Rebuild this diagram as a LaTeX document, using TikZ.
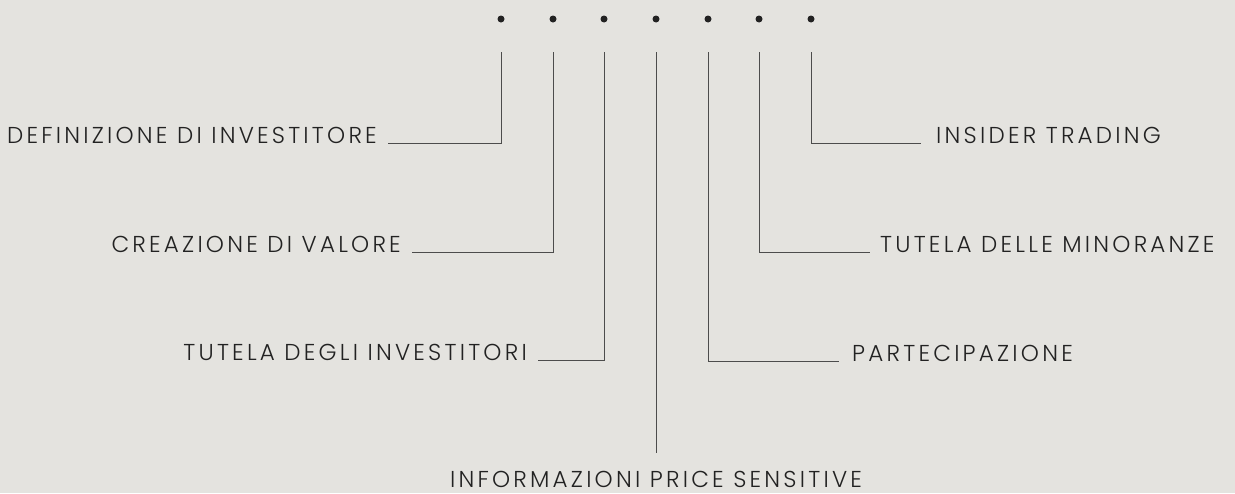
\documentclass[tikz,border=0pt]{standalone}
\usepackage{fontspec}
\setmainfont{Poppins}[LetterSpace=14,UprightFont=* Light]
\usepackage{tikz}
\usetikzlibrary{positioning,calc}
\definecolor{wall}{HTML}{E4E3DF}
\definecolor{ink}{HTML}{222222}
\tikzstyle{bullet} = [circle, fill=ink, inner sep=0pt, minimum size=7pt]
\tikzstyle{topic} = [text=ink, font=\fontsize{23}{26}\selectfont, inner ysep=0pt]
\tikzstyle{leader} = [draw=black!70, line width=1pt]

\begin{document}
\begin{tikzpicture}[x=1pt, y=-1pt]
	\fill[wall] (0,0) rectangle (1235,493);
	\useasboundingbox (0,0) rectangle (1235,493);
	% dots and line tops
	\foreach \i/\x in {1/501,2/553,3/604,4/656,5/708,6/759,7/811} {
		\node (d\i) [bullet] at (\x,19) {};
		\coordinate (t\i) at (\x,52);
	}
	% labels
	\node (inv) [topic, anchor=base east, inner xsep=11pt] at (388,143) {DEFINIZIONE DI INVESTITORE};
	\node (val) [topic, anchor=base east, inner xsep=11pt] at (412,252) {CREAZIONE DI VALORE};
	\node (tut) [topic, anchor=base east, inner xsep=11pt] at (538,360) {TUTELA DEGLI INVESTITORI};
	\node (ins) [topic, anchor=base west, inner xsep=15pt] at (921,143) {INSIDER TRADING};
	\node (min) [topic, anchor=base west, inner xsep=10pt] at (870,252) {TUTELA DELLE MINORANZE};
	\node (par) [topic, anchor=base west, inner xsep=13pt] at (839,361) {PARTECIPAZIONE};
	\node (ips) [topic, anchor=base] at (656,487) {INFORMAZIONI PRICE SENSITIVE};
	\coordinate (b4) at (656,453);

	\draw [leader] (t1) |- (inv.base east);
	\draw [leader] (t2) |- (val.base east);
	\draw [leader] (t3) |- (tut.base east);
	\draw [leader] (t4) -- (b4);
	\draw [leader] (t5) |- (par.base west);
	\draw [leader] (t6) |- (min.base west);
	\draw [leader] (t7) |- (ins.base west);
\end{tikzpicture}
\end{document}
